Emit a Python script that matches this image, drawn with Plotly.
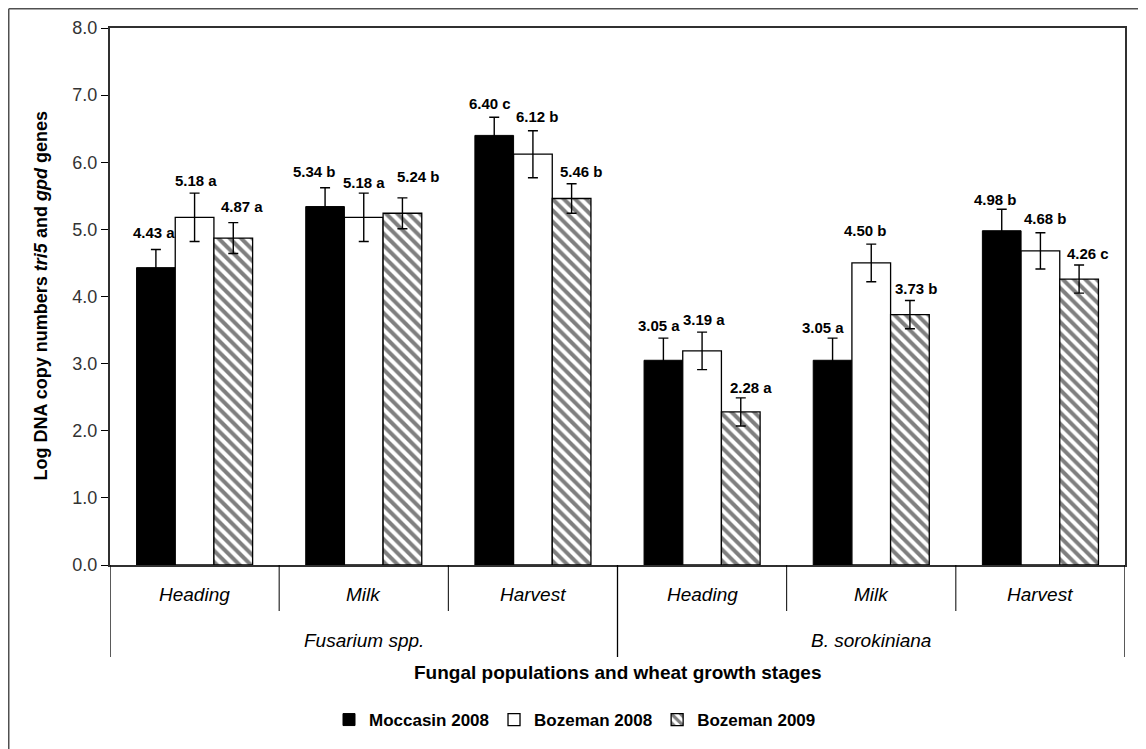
import plotly.graph_objects as go

# ---- data ----
groups = ["Fusarium spp.", "B. sorokiniana"]
stages = ["Heading", "Milk", "Harvest", "Heading", "Milk", "Harvest"]
series_names = ["Moccasin 2008", "Bozeman 2008", "Bozeman 2009"]

moccasin_2008 = [4.43, 5.34, 6.40, 3.05, 3.05, 4.98]
bozeman_2008 = [5.18, 5.18, 6.12, 3.19, 4.50, 4.68]
bozeman_2009 = [4.87, 5.24, 5.46, 2.28, 3.73, 4.26]

moccasin_2008_err = [0.27, 0.28, 0.27, 0.33, 0.33, 0.32]
bozeman_2008_err = [0.36, 0.36, 0.35, 0.28, 0.28, 0.27]
bozeman_2009_err = [0.23, 0.23, 0.22, 0.21, 0.21, 0.21]

moccasin_2008_letters = ["a", "b", "c", "a", "a", "b"]
bozeman_2008_letters = ["a", "a", "b", "a", "b", "b"]
bozeman_2009_letters = ["a", "b", "b", "a", "b", "c"]

y_ticks = [0, 1, 2, 3, 4, 5, 6, 7, 8]

# ---- styling: hand-placed label nudges (pixels) as in the original ----
label_dx = [
    [-2, -11, -4, -4, -10, -6],
    [1, 0, 5, 2, -6, 5],
    [9, 16, 10, 10, 7, 9],
]
label_dy = [
    [5, 4, 1, 0, -2, -3],
    [0, -2, 2, 0, 1, 2],
    [4, 9, 0, -2, 0, -1],
]

# ---- figure ----
FONT = "Liberation Sans, Arial, sans-serif"
W, H = 1146, 749
L, T = 102, 20
PW, PH = 1015, 537
R, B = W - L - PW, H - T - PH

x_idx = list(range(len(stages)))
bargap = 0.314
bar_w = (1 - bargap) / 3

series = [
    (series_names[0], moccasin_2008, moccasin_2008_err, moccasin_2008_letters,
     dict(color="black", line=dict(color="black", width=1))),
    (series_names[1], bozeman_2008, bozeman_2008_err, bozeman_2008_letters,
     dict(color="white", line=dict(color="black", width=1.3))),
    (series_names[2], bozeman_2009, bozeman_2009_err, bozeman_2009_letters,
     dict(color="white", line=dict(color="black", width=1.3),
          pattern=dict(shape="\\", fgcolor="black", bgcolor="white",
                       size=8, solidity=0.5))),
]

fig = go.Figure()
annotations = []
for k, (name, vals, errs, letters, marker) in enumerate(series):
    fig.add_trace(go.Bar(
        x=x_idx, y=vals, name=name, marker=marker,
        error_y=dict(type="data", array=errs, visible=True,
                     color="black", thickness=1.4, width=5),
    ))
    for i, (v, e, l) in enumerate(zip(vals, errs, letters)):
        annotations.append(dict(
            x=i + (k - 1) * bar_w, y=v + e, xref="x", yref="y",
            text=f"{v:.2f} {l}", showarrow=False, yanchor="bottom",
            xshift=label_dx[k][i], yshift=2 + label_dy[k][i],
            font=dict(family=FONT, size=15, color="black", weight="bold"),
        ))

def py(page_y):
    """paper y for a page pixel row (page offset 8px)"""
    return 1 - ((page_y - 8) - T) / PH

# stage labels
for i, s in enumerate(stages):
    annotations.append(dict(
        x=i, y=py(594), xref="x", yref="paper", text=f"<i>{s}</i>",
        showarrow=False, yanchor="middle",
        font=dict(family=FONT, size=19, color="black")))
# group labels
for g, gname in enumerate(groups):
    annotations.append(dict(
        x=g * 3 + 1, y=py(640), xref="x", yref="paper", text=f"<i>{gname}</i>",
        showarrow=False, yanchor="middle",
        font=dict(family=FONT, size=19, color="black")))
# x title
annotations.append(dict(
    x=0.5, y=py(672), xref="paper", yref="paper",
    text="<b>Fungal populations and wheat growth stages</b>",
    showarrow=False, yanchor="middle",
    font=dict(family=FONT, size=19, color="black")))
# y title
annotations.append(dict(
    x=(32 - L) / PW, y=0.5, xref="paper", yref="paper", textangle=-90,
    text="<b>Log DNA copy numbers <i>tri5</i> and <i>gpd</i> genes</b>",
    showarrow=False, xanchor="center", yanchor="middle",
    font=dict(family=FONT, size=18, color="black")))

shapes = []
# short dividers between stages
for b in [0.5, 1.5, 3.5, 4.5]:
    shapes.append(dict(type="line", xref="x", yref="paper", x0=b, x1=b,
                       y0=0, y1=py(611), line=dict(color="black", width=1)))
# long dividers
for b in [-0.5, 2.5, 5.5]:
    shapes.append(dict(type="line", xref="x", yref="paper", x0=b, x1=b,
                       y0=0, y1=py(657), line=dict(color="black", width=1.3)))
# outer frame (left and top edges visible in the reference)
fx = (0.75 - L) / PW
fy = 1 + (T - 0.75) / PH
shapes.append(dict(type="line", xref="paper", yref="paper", x0=fx, x1=fx,
                   y0=-(B + 5) / PH, y1=fy, line=dict(color="#505050", width=1.5)))
shapes.append(dict(type="line", xref="paper", yref="paper", x0=fx, x1=(W + 5 - L) / PW,
                   y0=fy, y1=fy, line=dict(color="#505050", width=1.5)))

fig.update_layout(
    width=W, height=H,
    margin=dict(l=L, r=R, t=T, b=B, autoexpand=False),
    paper_bgcolor="white", plot_bgcolor="white",
    barmode="group", bargap=bargap, bargroupgap=0,
    font=dict(family=FONT, color="black"),
    showlegend=True,
    legend=dict(orientation="h", xref="container", yref="container",
                x=(575 - 8) / W, xanchor="center",
                y=1 - (720 - 8) / H, yanchor="middle",
                font=dict(family=FONT, size=17, weight="bold"),
                itemwidth=30, tracegroupgap=0),
    annotations=annotations, shapes=shapes,
)
fig.update_xaxes(range=[-0.5, 5.5], showticklabels=False, ticks="",
                 showgrid=False, zeroline=False, showline=True, automargin=False,
                 linecolor="#303030", linewidth=2, mirror=True)
fig.update_yaxes(range=[0, 8], tickvals=y_ticks, tickformat=".1f",
                 ticks="outside", ticklen=7, tickcolor="black", tickwidth=1,
                 showgrid=False, zeroline=False, showline=True, automargin=False,
                 linecolor="#303030", linewidth=2, mirror=True,
                 tickfont=dict(family=FONT, size=18, color="#333"))

fig.write_html("out.html")
